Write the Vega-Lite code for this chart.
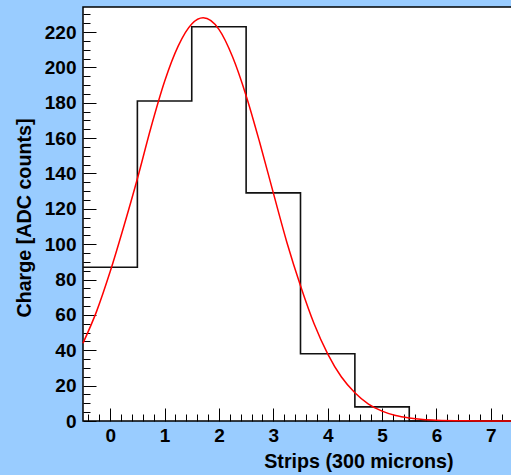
{
  "$schema": "https://vega.github.io/schema/vega-lite/v6.json",
  "width": 435,
  "height": 414,
  "autosize": "none",
  "padding": {"left": 83, "top": 7, "right": 0, "bottom": 54},
  "background": "#99ccff",
  "config": {
    "font": "Liberation Sans",
    "view": {"fill": "white", "stroke": "black", "strokeWidth": 1.5}
  },
  "datasets": {
    "hist": [
      {"strip": -0.5, "charge": 87},
      {"strip": 0.5, "charge": 181},
      {"strip": 1.5, "charge": 223},
      {"strip": 2.5, "charge": 129},
      {"strip": 3.5, "charge": 38},
      {"strip": 4.5, "charge": 8},
      {"strip": 5.5, "charge": 0},
      {"strip": 6.5, "charge": 0},
      {"strip": 7.5, "charge": 0}
    ],
    "fit": [
      {"strip": -0.5, "charge": 44},
      {"strip": -0.25, "charge": 62},
      {"strip": 0.0, "charge": 84.5},
      {"strip": 0.25, "charge": 110},
      {"strip": 0.5, "charge": 137},
      {"strip": 0.75, "charge": 166},
      {"strip": 1.0, "charge": 192},
      {"strip": 1.25, "charge": 212},
      {"strip": 1.5, "charge": 224.5},
      {"strip": 1.71, "charge": 228},
      {"strip": 2.0, "charge": 221.5},
      {"strip": 2.25, "charge": 206},
      {"strip": 2.5, "charge": 184},
      {"strip": 2.75, "charge": 157.5},
      {"strip": 3.0, "charge": 129},
      {"strip": 3.25, "charge": 101},
      {"strip": 3.5, "charge": 76.5},
      {"strip": 3.75, "charge": 55},
      {"strip": 4.0, "charge": 38},
      {"strip": 4.25, "charge": 25},
      {"strip": 4.5, "charge": 16},
      {"strip": 4.75, "charge": 9.6},
      {"strip": 5.0, "charge": 5.6},
      {"strip": 5.25, "charge": 3.1},
      {"strip": 5.5, "charge": 1.7},
      {"strip": 5.75, "charge": 0.85},
      {"strip": 6.0, "charge": 0.42},
      {"strip": 6.5, "charge": 0.09},
      {"strip": 7.0, "charge": 0.01},
      {"strip": 7.5, "charge": 0}
    ]
  },
  "layer": [
    {
      "data": {"name": "hist"},
      "mark": {"type": "line", "interpolate": "step-after", "color": "#111111", "strokeWidth": 1.6},
      "encoding": {
        "x": {
          "field": "strip", "type": "quantitative",
          "scale": {"domain": [-0.5, 7.5], "nice": false, "zero": false},
          "axis": {
            "orient": "bottom",
            "values": [-0.4,-0.2,0,0.2,0.4,0.6,0.8,1,1.2,1.4,1.6,1.8,2,2.2,2.4,2.6,2.8,3,3.2,3.4,3.6,3.8,4,4.2,4.4,4.6,4.8,5,5.2,5.4,5.6,5.8,6,6.2,6.4,6.6,6.8,7,7.2,7.4],
            "tickCount": 200,
            "labelExpr": "abs(datum.value - round(datum.value)) < 0.01 ? format(datum.value, 'd') : ''",
            "tickSize": {"condition": {"test": "abs(datum.value - round(datum.value)) < 0.01", "value": -13}, "value": -7},
            "tickColor": "black",
            "tickWidth": 1,
            "domain": false,
            "grid": false,
            "labelPadding": 18,
            "labelFontSize": 19,
            "labelFontWeight": "bold",
            "labelColor": "black",
            "labelFlush": false,
            "labelOverlap": false,
            "title": "Strips (300 microns)",
            "titleFontSize": 19.7,
            "titleFontWeight": "bold",
            "titleColor": "black",
            "titleAlign": "right",
            "titleBaseline": "alphabetic",
            "titleX": 370,
            "titleY": 46
          }
        },
        "y": {
          "field": "charge", "type": "quantitative",
          "scale": {"domain": [0, 234.15], "nice": false},
          "axis": {
            "orient": "left",
            "values": [0,5,10,15,20,25,30,35,40,45,50,55,60,65,70,75,80,85,90,95,100,105,110,115,120,125,130,135,140,145,150,155,160,165,170,175,180,185,190,195,200,205,210,215,220,225,230],
            "tickCount": 200,
            "labelExpr": "datum.value % 20 === 0 ? format(datum.value, 'd') : ''",
            "tickSize": {"condition": {"test": "datum.value % 20 === 0", "value": -13}, "value": -7},
            "tickColor": "black",
            "tickWidth": 1,
            "domain": false,
            "grid": false,
            "labelPadding": 20,
            "labelFontSize": 19,
            "labelFontWeight": "bold",
            "labelColor": "black",
            "labelFlush": false,
            "labelOverlap": false,
            "title": "Charge [ADC counts]",
            "titleFontSize": 19.7,
            "titleFontWeight": "bold",
            "titleColor": "black",
            "titleAngle": 270,
            "titleAlign": "right",
            "titleBaseline": "alphabetic",
            "titleX": -53,
            "titleY": 111
          }
        }
      }
    },
    {
      "data": {"name": "fit"},
      "mark": {"type": "line", "interpolate": "monotone", "color": "red", "strokeWidth": 1.5},
      "encoding": {
        "x": {"field": "strip", "type": "quantitative"},
        "y": {"field": "charge", "type": "quantitative"}
      }
    }
  ]
}
